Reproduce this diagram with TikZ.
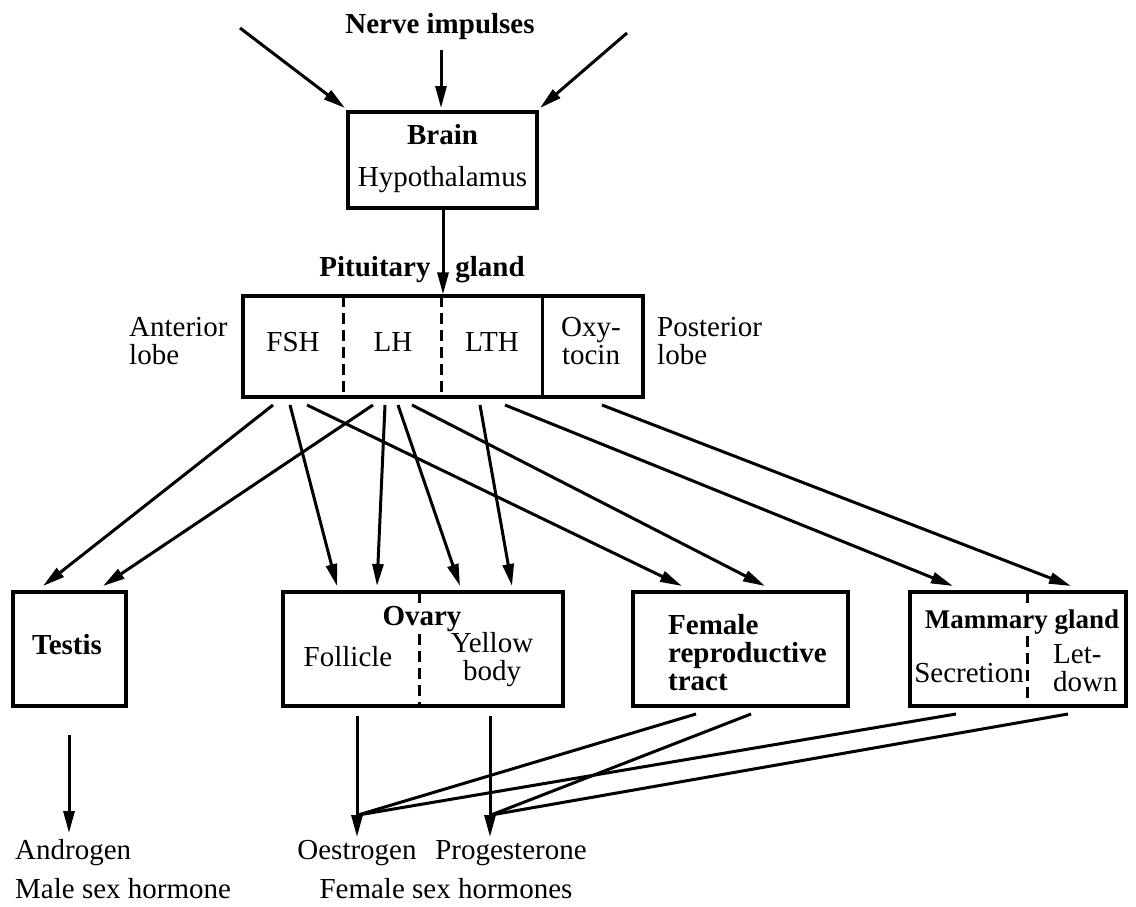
\documentclass[tikz,border=0pt]{standalone}
\usepackage{fontspec}
\setmainfont{Liberation Serif}
\usetikzlibrary{arrows.meta}
\begin{document}
\begin{tikzpicture}[x=1pt,y=-1pt,
  txt/.style={font=\fontsize{29}{28}\selectfont, inner sep=0pt, align=center},
  btxt/.style={font=\fontsize{29}{28}\selectfont\bfseries, inner sep=0pt, align=center},
  ltxt/.style={font=\fontsize{29}{28}\selectfont, inner sep=0pt, align=left},
  box/.style={draw, line width=3.2pt, inner sep=0pt},
  arr/.style={line width=3pt, -{Triangle[length=22pt,width=11pt]}},
  ln/.style={line width=3pt},
  dsh/.style={line width=3pt, dash pattern=on 11pt off 6pt}]
\useasboundingbox (0,0) rectangle (1136,906);

% top
\node[btxt] (nerve) at (440,27) {Nerve impulses};
\node[box, minimum width=189pt, minimum height=96pt] (brain) at (442.5,160) {};
\node[btxt] (brainlbl) at (442.5,135) {Brain};
\node[txt] (hypo) at (442.5,180) {Hypothalamus};
\coordinate (nl) at (240,28);
\coordinate (nm) at (441,50);
\coordinate (nr) at (627,33);
\coordinate (bl) at (345,108);
\coordinate (bm) at (441,108);
\coordinate (br) at (540,108);
\draw[arr] (nl) -- (bl);
\draw[arr] (nm) -- (bm);
\draw[arr] (nr) -- (br);

% pituitary
\node[box, minimum width=400pt, minimum height=101pt] (pit) at (443,346.5) {};
\draw[arr] (pit.north |- brain.south) -- (pit.north);
\node[btxt] (pitlbl) at (375,270) {Pituitary};
\node[btxt] (glandlbl) at (490,270) {gland};
\draw[dsh] (343,296) -- (343,397);
\draw[dsh] (441,296) -- (441,397);
\draw[ln] (542,296) -- (542,397);
\node[ltxt, anchor=west] (ant) at (129,341) {Anterior\\lobe};
\node[ltxt, anchor=west] (post) at (657,341) {Posterior\\lobe};
\node[txt] (fsh) at (293,342) {FSH};
\node[txt] (lh) at (393,342) {LH};
\node[txt] (lth) at (492,342) {LTH};
\node[txt] (oxy) at (591,341) {Oxy-\\tocin};

% target boxes
\node[box, minimum width=113pt, minimum height=114pt] (testis) at (69.5,649) {};
\node[btxt] (testislbl) at (67,645) {Testis};
\node[box, minimum width=280pt, minimum height=114pt] (ovary) at (423,649) {};
\draw[dsh] (419,592) -- (419,604);
\draw[dsh] (419,634) -- (419,706);
\node[btxt] (ovarylbl) at (422,619) {Ovary};
\node[txt] (foll) at (348,657) {Follicle};
\node[txt] (yellow) at (492,660) {Yellow\\body};
\node[box, minimum width=215pt, minimum height=114pt] (female) at (740.5,649) {};
\node[btxt, align=left, anchor=west] (femlbl) at (668,653) {Female\\reproductive\\tract};
\node[box, minimum width=216pt, minimum height=114pt] (mam) at (1018,649) {};
\draw[dsh] (1027,592) -- (1027,604);
\draw[dsh] (1027,636) -- (1027,706);
\node[btxt, font=\fontsize{27}{28}\selectfont\bfseries] (mamlbl) at (1022,622) {Mammary gland};
\node[txt] (secr) at (969,673) {Secretion};
\node[ltxt, anchor=west] (letdown) at (1053,668) {Let-\\down};

% arrows from pituitary
\coordinate (s1) at (273,405);  \coordinate (e1) at (43,586);
\coordinate (s2) at (373,405);  \coordinate (e2) at (103,586);
\coordinate (s3) at (290,405);  \coordinate (e3) at (337,586);
\coordinate (s4) at (385,405);  \coordinate (e4) at (377,586);
\coordinate (s5) at (398,405);  \coordinate (e5) at (460,586);
\coordinate (s6) at (480,405);  \coordinate (e6) at (512,586);
\coordinate (s7) at (307,405);  \coordinate (e7) at (682,586);
\coordinate (s8) at (412,405);  \coordinate (e8) at (765,586);
\coordinate (s9) at (505,405);  \coordinate (e9) at (953,586);
\coordinate (s10) at (602,405); \coordinate (e10) at (1071,586);
\foreach \i in {1,...,10} {\draw[arr] (s\i) -- (e\i);}

% hormones
\coordinate (ta) at (69,735);   \coordinate (ha) at (69,833);
\coordinate (fa) at (357,716);  \coordinate (ho) at (357,837);
\coordinate (ya) at (490,716);  \coordinate (hp) at (490,837);
\draw[arr] (ta) -- (ha);
\draw[arr] (fa) -- (ho);
\draw[arr] (ya) -- (hp);
\coordinate (jo) at (358,815);
\coordinate (jp) at (491,815);
\coordinate (f1) at (696,714);
\coordinate (f2) at (751,714);
\coordinate (m1) at (956,714);
\coordinate (m2) at (1068,714);
\draw[ln] (f1) -- (jo);
\draw[ln] (m1) -- (jo);
\draw[ln] (f2) -- (jp);
\draw[ln] (m2) -- (jp);

\node[txt, anchor=west] (andro) at (15,853) {Androgen};
\node[txt, anchor=west] (male) at (15,889) {Male sex hormone};
\node[txt] (oest) at (357,853) {Oestrogen};
\node[txt] (prog) at (511,853) {Progesterone};
\node[txt] (fem) at (446,889) {Female sex hormones};
\end{tikzpicture}
\end{document}
